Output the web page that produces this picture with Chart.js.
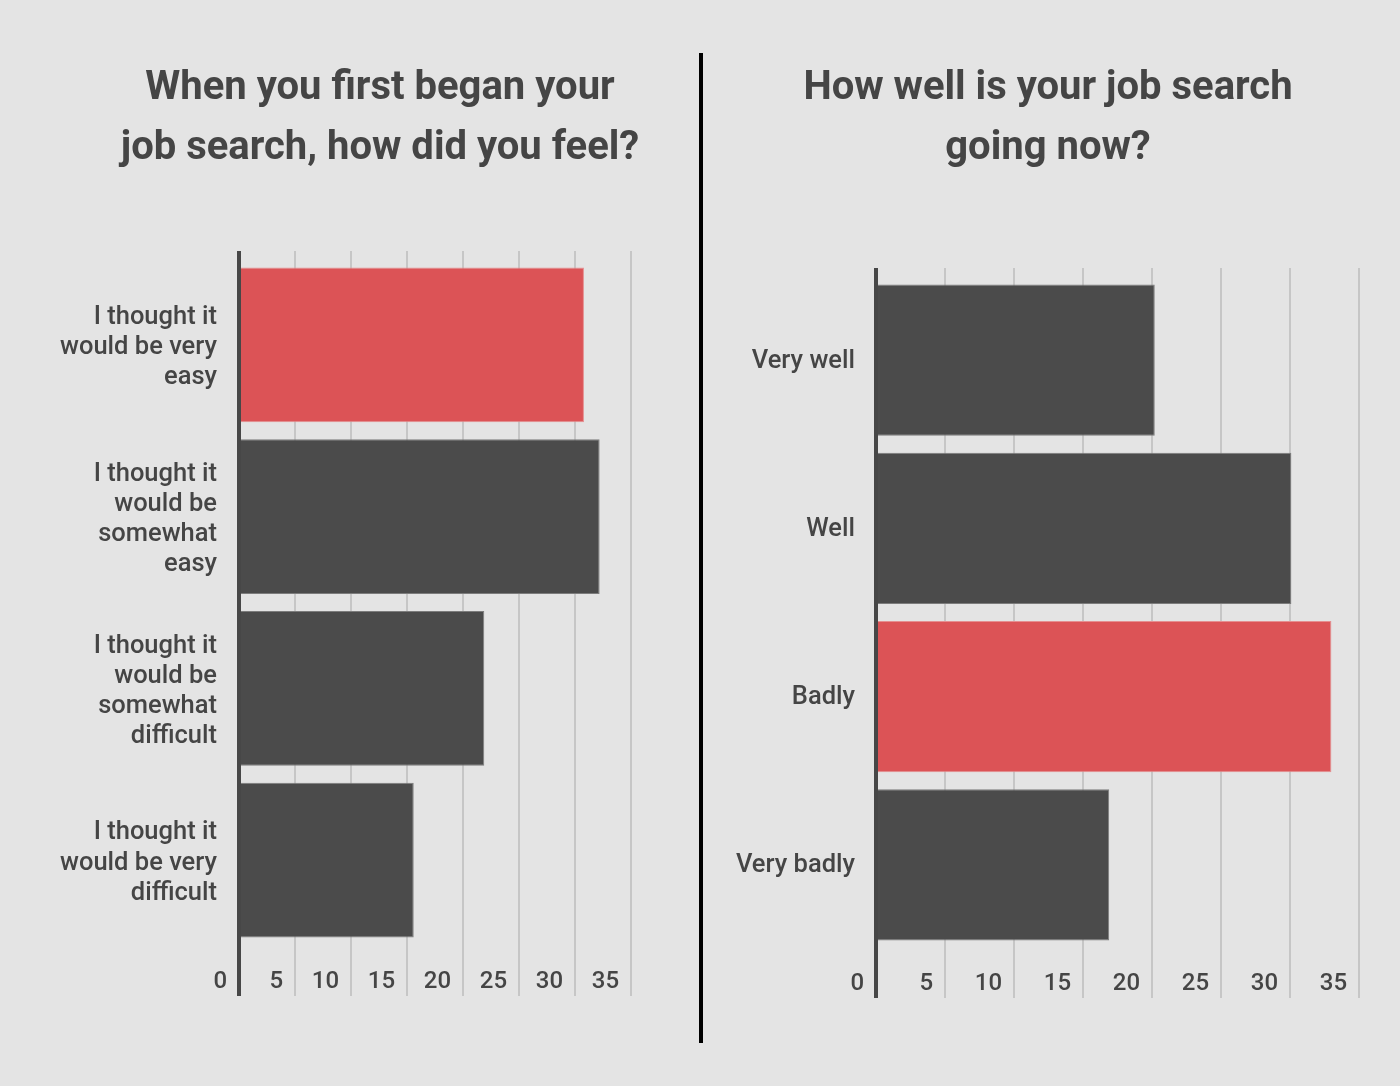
<!DOCTYPE html>
<html>
<head>
<meta charset="utf-8">
<script src="https://cdn.jsdelivr.net/npm/chart.js"></script>
<style>
  html, body { margin: 0; padding: 0; background: #e4e4e4; }
  body { width: 1400px; height: 1086px; position: relative; overflow: hidden; }
  .box { position: absolute; top: 0; height: 1086px; }
  #divider { position: absolute; left: 699px; top: 53px; width: 4px; height: 990px; background: #000; }
</style>
</head>
<body>
<div class="box" style="left:0;width:700px"><canvas id="chart1"></canvas></div>
<div class="box" style="left:696px;width:704px"><canvas id="chart2"></canvas></div>
<div id="divider"></div>
<script>
  // values
  const leftTitle = ['When you first began your', 'job search, how did you feel?'];
  const leftLabels = [
    ['I thought it', 'would be very', 'easy'],
    ['I thought it', 'would be', 'somewhat', 'easy'],
    ['I thought it', 'would be', 'somewhat', 'difficult'],
    ['I thought it', 'would be very', 'difficult']
  ];
  const leftValues = [30.8, 32.2, 21.9, 15.6];
  const leftHighlight = 0;

  const rightTitle = ['How well is your job search', 'going now?'];
  const rightLabels = ['Very well', 'Well', 'Badly', 'Very badly'];
  const rightValues = [20.2, 30.1, 33.0, 16.9];
  const rightHighlight = 2;

  const xMax = 35;
  const xStep = 5;

  const RED = '#dc5356';
  const GREY = '#4b4b4b';
  const TEXT = '#454545';

  Chart.defaults.font.family = 'Roboto';
  Chart.defaults.color = TEXT;

  const gridColor = (c) => (c.tick && c.tick.value === 0 ? '#474747' : '#c6c6c6');
  const gridWidth = (c) => (c.tick && c.tick.value === 0 ? 4 : 2);

  function makeChart(id, title, labels, values, hi, g) {
    const colors = values.map((v, i) => (i === hi ? RED : GREY));
    const borders = values.map((v, i) => (i === hi ? '#e58f90' : '#7c7c7c'));
    return new Chart(document.getElementById(id), {
      type: 'bar',
      data: {
        labels: labels,
        datasets: [{
          data: values,
          backgroundColor: colors,
          borderColor: borders,
          borderWidth: 1,
          categoryPercentage: 1,
          barPercentage: 0.9
        }]
      },
      options: {
        indexAxis: 'y',
        responsive: true,
        maintainAspectRatio: false,
        animation: false,
        layout: { padding: { left: g.padLeft, right: 0, top: 0, bottom: 0 } },
        plugins: {
          legend: { display: false },
          tooltip: { enabled: false },
          title: {
            display: true,
            text: title,
            color: TEXT,
            font: { size: 40, weight: 'bold', lineHeight: 60 / 40 },
            padding: { top: 59, bottom: g.titleBottom }
          }
        },
        scales: {
          x: {
            min: 0,
            max: xMax,
            position: 'bottom',
            border: { display: false },
            grid: {
              color: gridColor,
              lineWidth: gridWidth,
              tickColor: gridColor,
              tickWidth: gridWidth,
              tickLength: g.tickLength
            },
            ticks: {
              stepSize: xStep,
              align: 'end',
              padding: g.tickPad,
              font: { size: 24, weight: 500 },
              color: TEXT,
              callback: (v) => v + '  '
            },
            afterFit: (s) => { s.height = g.bottomH; }
          },
          x2: {
            type: 'linear',
            min: 0,
            max: xMax,
            position: 'top',
            border: { display: false },
            grid: {
              drawOnChartArea: false,
              color: gridColor,
              lineWidth: gridWidth,
              tickColor: gridColor,
              tickWidth: gridWidth,
              tickLength: 8
            },
            ticks: { stepSize: xStep, display: false },
            afterFit: (s) => { s.height = 8; }
          },
          y: {
            border: { display: false },
            grid: { display: false, drawTicks: false },
            ticks: {
              padding: g.labelPad,
              labelOffset: g.labelShift,
              font: { size: 25.5, weight: 500, lineHeight: 1.18 },
              color: TEXT
            },
            afterFit: (s) => { s.width = g.yWidth; }
          },
          yR: {
            type: 'linear',
            position: 'right',
            display: true,
            border: { display: false },
            grid: { display: false, drawTicks: false },
            ticks: { display: false },
            afterFit: (s) => { s.width = g.rightW; }
          }
        }
      }
    });
  }

  makeChart('chart1', leftTitle, leftLabels, leftValues, leftHighlight, {
    padLeft: 60, yWidth: 179, rightW: 69, titleBottom: 72,
    tickLength: 50, tickPad: -28, bottomH: 140, labelPad: 22, labelShift: 3
  });
  makeChart('chart2', rightTitle, rightLabels, rightValues, rightHighlight, {
    padLeft: 0, yWidth: 180, rightW: 41, titleBottom: 89,
    tickLength: 49, tickPad: -28, bottomH: 137, labelPad: 21, labelShift: 1
  });
</script>
</body>
</html>
